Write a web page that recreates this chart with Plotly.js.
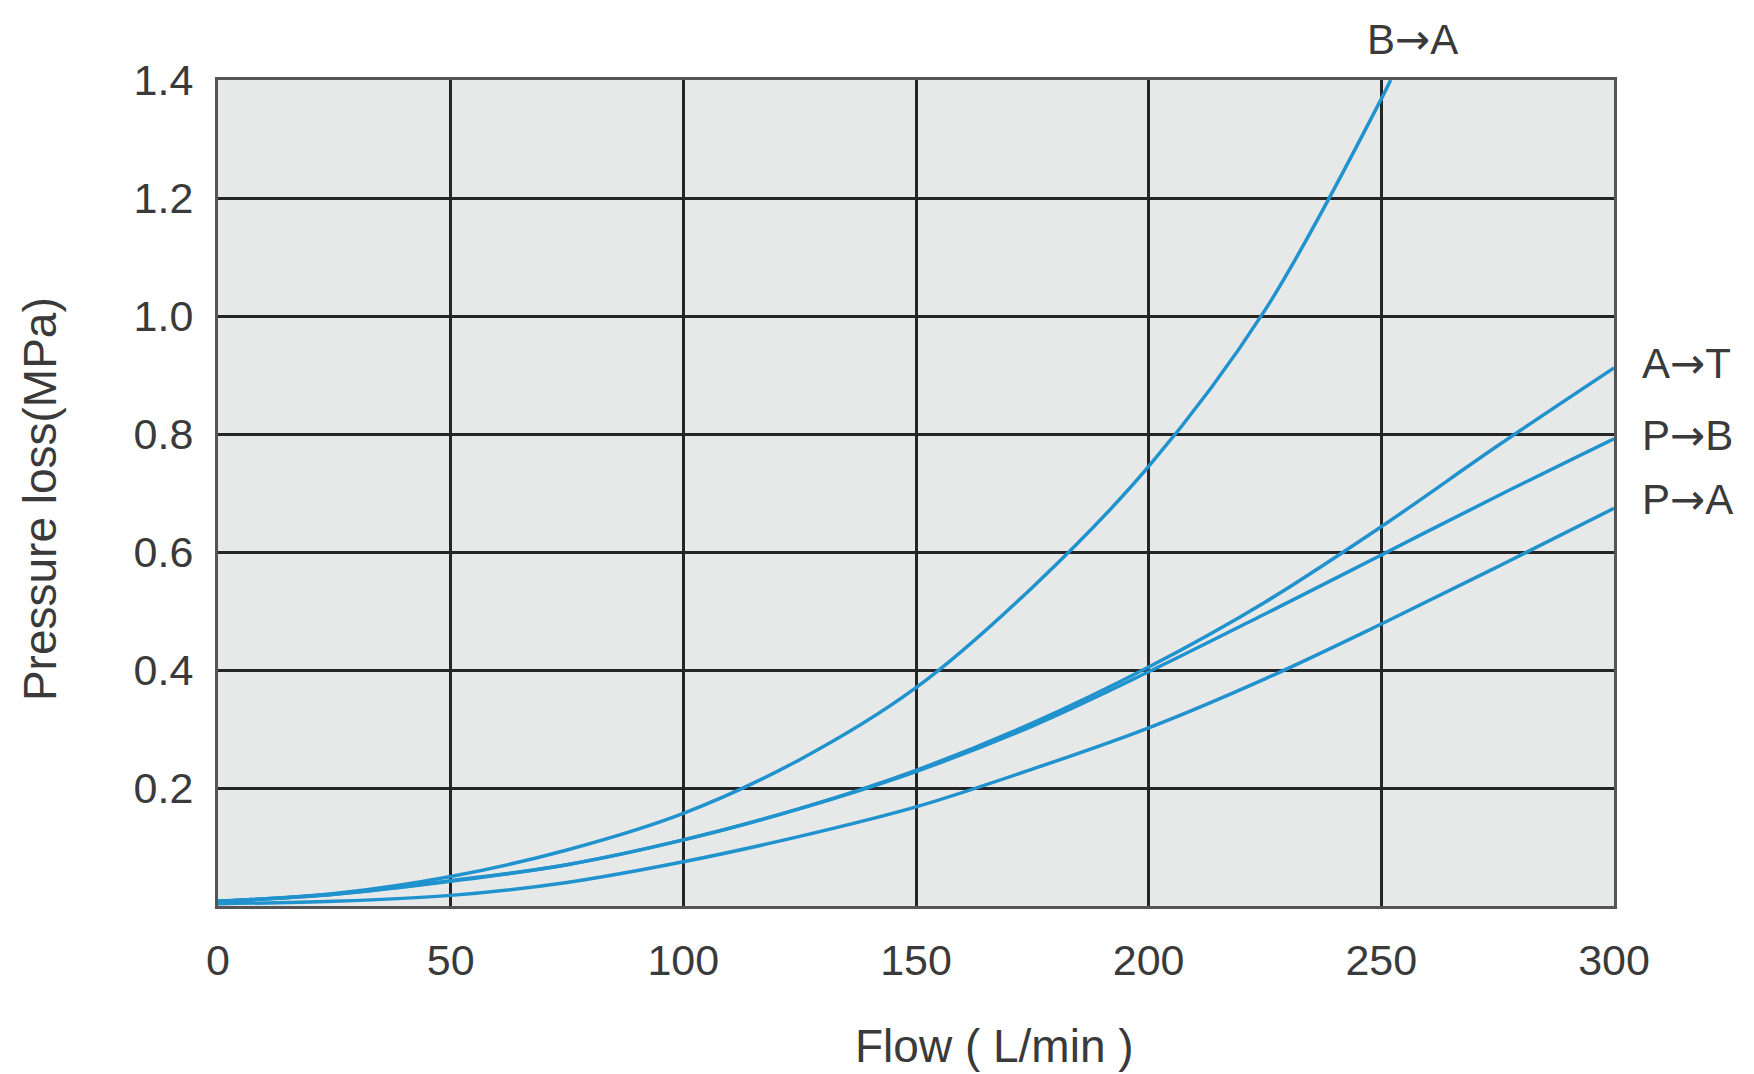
<!DOCTYPE html>
<html>
<head>
<meta charset="utf-8">
<script src="https://cdn.plot.ly/plotly-3.0.1.min.js"></script>
<style>html,body{margin:0;padding:0;background:#fff;}#chart{width:1754px;height:1074px;}</style>
</head>
<body>
<div id="chart"></div>
<script>
// Flow (L/min)
const flow = [0, 25, 50, 75, 100, 125, 150, 175, 200, 225, 250, 252];
const flowFull = [0, 25, 50, 75, 100, 125, 150, 175, 200, 225, 250, 275, 300];
// Pressure loss (MPa)
const lossBA = [0.008, 0.021, 0.050, 0.095, 0.157, 0.248, 0.370, 0.540, 0.745, 1.010, 1.368, 1.400];
const lossAT = [0.008, 0.020, 0.043, 0.070, 0.112, 0.165, 0.230, 0.310, 0.405, 0.515, 0.643, 0.780, 0.912];
const lossPB = [0.008, 0.020, 0.042, 0.070, 0.112, 0.165, 0.228, 0.305, 0.397, 0.495, 0.595, 0.695, 0.792];
const lossPA = [0.004, 0.008, 0.018, 0.040, 0.075, 0.118, 0.168, 0.232, 0.302, 0.385, 0.478, 0.575, 0.674];
const seriesNames = ["B→A", "A→T", "P→B", "P→A"];
const xTicks = [0, 50, 100, 150, 200, 250, 300];
const yTicks = [0.2, 0.4, 0.6, 0.8, 1.0, 1.2, 1.4];

const lineColor = "#2092cd";
const textColor = "#3a3a3a";
const fontFam = "'Liberation Sans', Arial, Helvetica, sans-serif";

function tr(x, y, name) {
  return {x: x, y: y, name: name, type: "scatter", mode: "lines",
    line: {color: lineColor, width: 3.5, shape: "spline", smoothing: 1},
    hoverinfo: "x+y+name"};
}
const data = [
  tr(flow, lossBA, seriesNames[0]),
  tr(flowFull, lossAT, seriesNames[1]),
  tr(flowFull, lossPB, seriesNames[2]),
  tr(flowFull, lossPA, seriesNames[3])
];

// draw the arrow glyph with a font whose arrow is longer, like the reference
function styled(name) {
  return name.replace("→", "<span style=\"font-family:'DejaVu Sans'\">→</span>");
}

const lbl = {font: {family: fontFam, size: 42, color: textColor}, showarrow: false};
const ttl = {font: {family: fontFam, size: 46, color: textColor}, showarrow: false};
const annotations = [
  Object.assign({text: styled(seriesNames[0]), xref: "x", yref: "paper", x: flow[flow.length-1], y: 1,
    xanchor: "center", yanchor: "bottom", xshift: 22, yshift: 14}, lbl),
  Object.assign({text: styled(seriesNames[1]), xref: "x", yref: "y", x: 300, y: lossAT[lossAT.length-1],
    xanchor: "left", yanchor: "middle", xshift: 26, yshift: 4}, lbl),
  Object.assign({text: styled(seriesNames[2]), xref: "x", yref: "y", x: 300, y: lossPB[lossPB.length-1],
    xanchor: "left", yanchor: "middle", xshift: 26, yshift: 3}, lbl),
  Object.assign({text: styled(seriesNames[3]), xref: "x", yref: "y", x: 300, y: lossPA[lossPA.length-1],
    xanchor: "left", yanchor: "middle", xshift: 26, yshift: 9}, lbl),
  Object.assign({text: "Flow ( L/min )", xref: "paper", yref: "paper", x: 0.556, y: -0.17,
    xanchor: "center", yanchor: "middle"}, ttl),
  Object.assign({text: "Pressure loss(MPa)", xref: "paper", yref: "paper", x: -0.128, y: 0.493,
    xanchor: "center", yanchor: "middle", textangle: -90}, ttl)
];

const layout = {
  width: 1754, height: 1074,
  margin: {l: 218, r: 140, t: 80, b: 168},
  paper_bgcolor: "#ffffff",
  plot_bgcolor: "#e7e9e9",
  showlegend: false,
  font: {family: fontFam, color: textColor},
  xaxis: {
    range: [0, 300], tickvals: xTicks, ticktext: xTicks.map(String),
    showgrid: true, gridcolor: "#262626", gridwidth: 3,
    showline: true, linecolor: "#555", linewidth: 3, mirror: true,
    zeroline: false, ticks: "", ticklabelstandoff: 14,
    tickfont: {family: fontFam, size: 43, color: textColor}
  },
  yaxis: {
    range: [0, 1.4], tickvals: yTicks, ticktext: yTicks.map(v => v.toFixed(1)),
    showgrid: true, gridcolor: "#262626", gridwidth: 3,
    showline: true, linecolor: "#555", linewidth: 3, mirror: true,
    zeroline: false, ticks: "", ticklabelstandoff: 13,
    tickfont: {family: fontFam, size: 43, color: textColor}
  },
  annotations: annotations
};

Plotly.newPlot("chart", data, layout, {displayModeBar: false, staticPlot: true});
</script>
</body>
</html>
